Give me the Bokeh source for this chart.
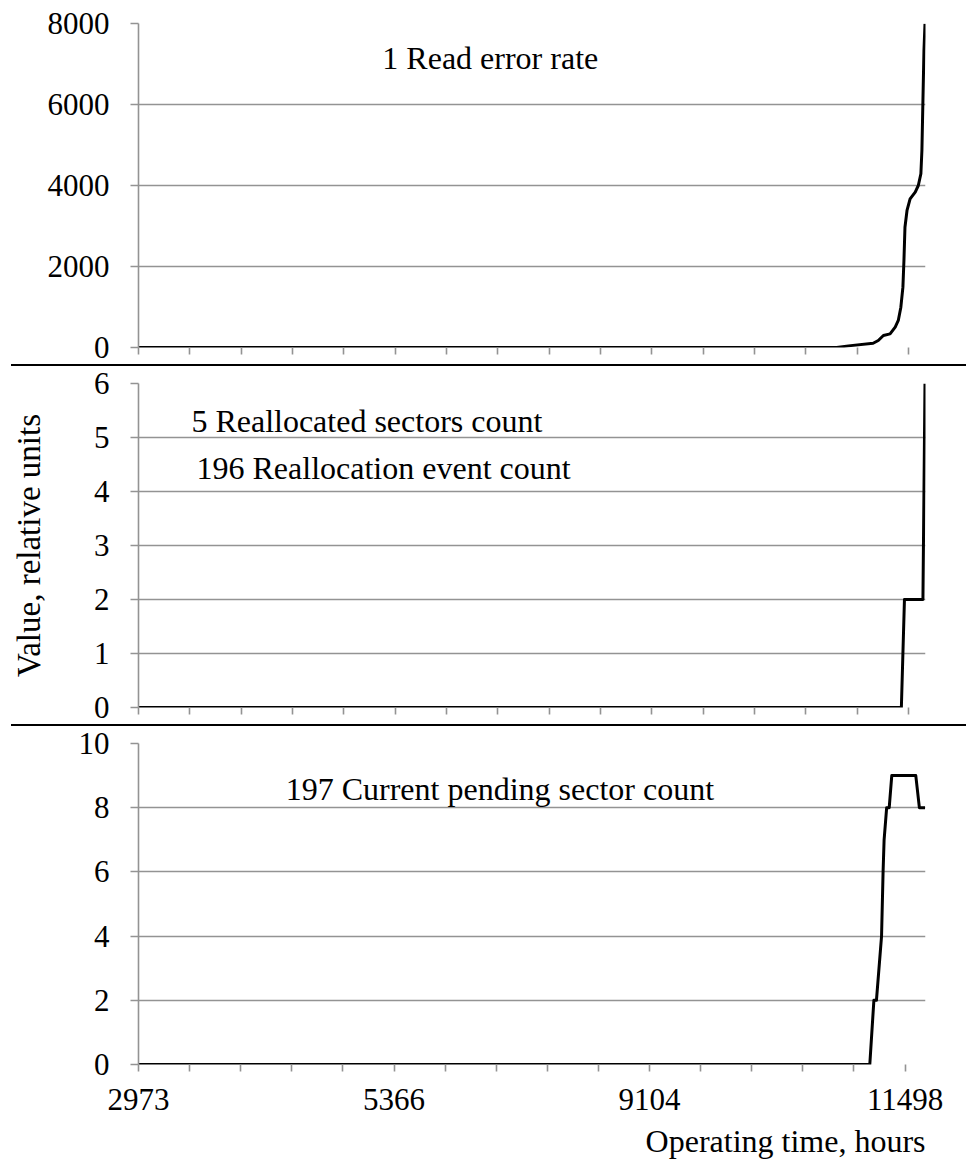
from bokeh.plotting import figure
from bokeh.models import FixedTicker, Label, Div, Title, Range1d
from bokeh.layouts import column
from bokeh.embed import file_html
from bokeh.resources import INLINE

FONT = "Liberation Serif"
FS = "31px"      # tick labels
FS_TXT = "32px"  # notes and axis titles
GRID = "#939393"

# category positions along the time axis (16 tick marks) and the labelled ones
tick_positions = list(range(16))
tick_labels = {0: "2973", 5: "5366", 10: "9104", 15: "11498"}

# 1 Read error rate
read_err_x = [0, 13.6, 13.83, 14.31, 14.41, 14.51, 14.64, 14.74, 14.80, 14.85, 14.89,
              14.91, 14.93, 14.97, 15.03, 15.13, 15.19, 15.24, 15.26, 15.28, 15.30, 15.32]
read_err_y = [0, 0, 40, 106, 173, 296, 337, 502, 667, 996, 1490,
              2148, 2970, 3383, 3671, 3835, 4000, 4289, 4864, 6099, 7333, 7992]

# 5 Reallocated sectors count / 196 Reallocation event count
realloc_x = [0, 14.86, 14.92, 15.28, 15.32]
realloc_y = [0, 0, 2, 2, 6]

# 197 Current pending sector count
pending_x = [0, 14.31, 14.39, 14.44, 14.54, 14.57, 14.59, 14.64, 14.69, 14.74, 15.21, 15.28, 15.39]
pending_y = [0, 0, 2, 2, 4, 6, 7, 8, 8, 9, 9, 8, 8]


def make_panel(height, xend, ymax, yticks, xs, ys, bottom_labels, min_top, min_bottom, min_right):
    p = figure(width=966, height=height, output_backend="svg", toolbar_location=None,
               x_range=Range1d(0, xend), y_range=Range1d(0, ymax),
               min_border_left=138, min_border_right=min_right,
               min_border_top=min_top, min_border_bottom=min_bottom)
    p.outline_line_color = None
    p.xgrid.visible = False
    p.ygrid.grid_line_color = GRID
    p.ygrid.grid_line_width = 1.6
    p.ygrid.ticker = FixedTicker(ticks=yticks)

    ya = p.yaxis[0]
    ya.ticker = FixedTicker(ticks=yticks)
    ya.axis_line_color = GRID
    ya.axis_line_width = 1.6
    ya.major_tick_line_color = GRID
    ya.major_tick_line_width = 1.6
    ya.major_tick_out = 8
    ya.major_tick_in = 0
    ya.minor_tick_line_color = None
    ya.major_label_standoff = 21
    ya.major_label_text_font = FONT
    ya.major_label_text_font_size = FS
    ya.major_label_text_color = "black"

    xa = p.xaxis[0]
    xa.ticker = FixedTicker(ticks=tick_positions)
    xa.axis_line_color = None
    xa.major_tick_line_color = GRID
    xa.major_tick_line_width = 1.6
    xa.major_tick_out = 7
    xa.major_tick_in = 0
    xa.minor_tick_line_color = None
    xa.major_label_text_font = FONT
    xa.major_label_text_color = "black"
    if bottom_labels:
        xa.major_label_overrides = {t: tick_labels.get(t, "") for t in tick_positions}
        xa.major_label_text_font_size = FS
        xa.major_label_standoff = 17
    else:
        xa.major_label_overrides = {t: "" for t in tick_positions}
        xa.major_label_text_font_size = "1px"
        xa.major_label_standoff = 0

    p.line(xs, ys, line_color="black", line_width=3, line_join="round")
    return p


def note(p, x, y, text):
    p.add_layout(Label(x=x, y=y, text=text, text_font=FONT, text_font_size=FS_TXT,
                       text_color="black", text_align="left", text_baseline="alphabetic"))


p1 = make_panel(364, 15.33, 8000, [0, 2000, 4000, 6000, 8000], read_err_x, read_err_y,
                False, 23, 17, 41)
note(p1, 4.75, 7160, "1 Read error rate")

p2 = make_panel(358, 15.33, 6, [0, 1, 2, 3, 4, 5, 6], realloc_x, realloc_y,
                False, 17, 17, 41)
p2.yaxis[0].axis_label = "Value, relative units"
p2.yaxis[0].axis_label_text_font = FONT
p2.yaxis[0].axis_label_text_font_size = "33px"
p2.yaxis[0].axis_label_text_font_style = "normal"
p2.yaxis[0].axis_label_text_color = "black"
p2.yaxis[0].axis_label_standoff = 44
note(p2, 1.03, 5.31, "5 Reallocated sectors count")
note(p2, 1.13, 4.44, "196 Reallocation event count")

p3 = make_panel(441, 15.4, 10, [0, 2, 4, 6, 8, 10], pending_x, pending_y,
                True, 17, 103, 38)
p3.add_layout(Title(text="Operating time, hours", align="right", text_font=FONT,
                    text_font_size=FS_TXT, text_font_style="normal", text_color="black",
                    standoff=16, offset=0), "below")
note(p3, 2.88, 8.57, "197 Current pending sector count")


def separator():
    return Div(text="", width=955, height=2, margin=(0, 0, 0, 11),
               styles={"background-color": "black"})


layout = column(p1, separator(), p2, separator(), p3, spacing=0)

with open("out.html", "w") as f:
    f.write(file_html(layout, INLINE))
